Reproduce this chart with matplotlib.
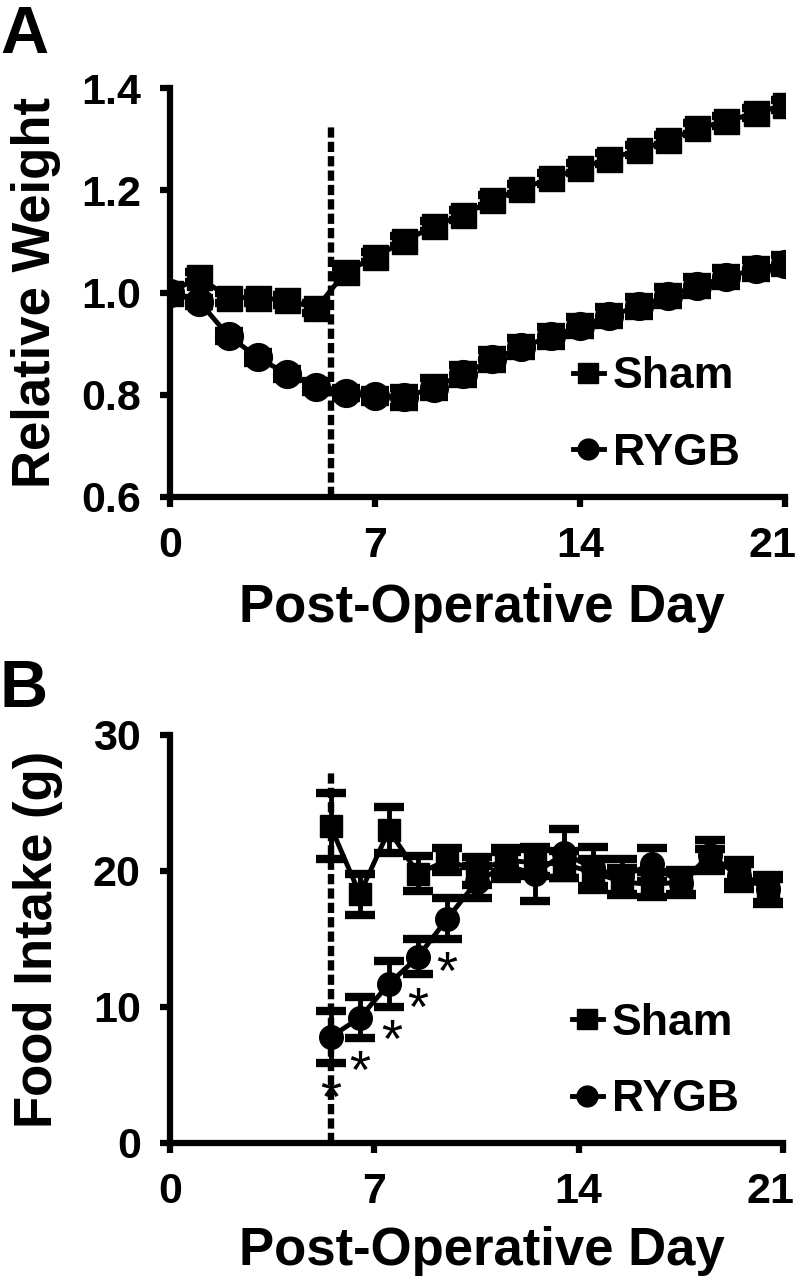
import matplotlib
matplotlib.use("Agg")
import matplotlib.pyplot as plt
import matplotlib.transforms as mtransforms
from matplotlib.lines import Line2D
from matplotlib.path import Path
from matplotlib.textpath import TextPath
from matplotlib.font_manager import FontProperties

plt.rcParams['font.family'] = ['Liberation Sans', 'DejaVu Sans']
plt.rcParams['font.weight'] = 'bold'

# Panel A: relative body weight
days_a = list(range(22))
sham_w = [1.00, 1.03, 0.99, 0.99, 0.985, 0.97, 1.04, 1.07, 1.10, 1.13, 1.152,
          1.18, 1.203, 1.223, 1.243, 1.262, 1.278, 1.298, 1.321, 1.335, 1.351, 1.367]
sham_w_err = [0.01] * 22
rygb_w = [1.00, 0.982, 0.915, 0.873, 0.840, 0.816, 0.804, 0.797, 0.795, 0.814, 0.840,
          0.869, 0.893, 0.914, 0.934, 0.954, 0.973, 0.993, 1.013, 1.030, 1.046, 1.056]
rygb_w_err = [0.005, 0.008, 0.01, 0.01, 0.01, 0.01, 0.01, 0.012, 0.018, 0.018, 0.018,
              0.018, 0.018, 0.018, 0.018, 0.018, 0.018, 0.018, 0.018, 0.018, 0.018, 0.018]

# Panel B: food intake
days_b = [5.5, 6.5, 7.5, 8.5, 9.5, 10.5, 11.5, 12.5, 13.5, 14.5, 15.5, 16.5, 17.5, 18.5, 19.5, 20.5]
sham_f = [23.3, 18.3, 23.0, 19.8, 20.8, 20.0, 20.8, 20.6, 20.5, 19.9, 19.2, 19.0, 19.2, 20.8, 20.0, 18.5]
sham_f_err = [2.4, 1.5, 1.7, 1.3, 0.9, 1.0, 0.9, 1.0, 1.0, 1.0, 1.0, 0.9, 0.9, 0.8, 0.8, 0.9]
rygb_f = [7.8, 9.2, 11.7, 13.7, 16.5, 19.2, 20.4, 19.8, 21.3, 20.2, 19.6, 20.5, 19.1, 21.2, 19.6, 18.7]
rygb_f_err = [1.9, 1.5, 1.7, 1.3, 1.5, 1.2, 1.0, 2.0, 1.8, 1.6, 1.3, 1.2, 0.9, 1.1, 0.9, 1.0]
star_x = [5.5, 6.5, 7.6, 8.5, 9.5]
star_y = [4.1, 6.1, 8.4, 10.7, 13.4]

surgery_day = 5.5
xticks = [0, 7, 14, 21]

fig = plt.figure(figsize=(8.05, 12.76), dpi=100)
ax_a = fig.add_axes([170 / 805, 1 - 497 / 1276, 615 / 805, 409 / 1276])
ax_b = fig.add_axes([170 / 805, 1 - 1143 / 1276, 613 / 805, 408 / 1276])


def style_axes(ax):
    for side in ['top', 'right']:
        ax.spines[side].set_visible(False)
    for side in ['left', 'bottom']:
        ax.spines[side].set_linewidth(4.5)
    ax.tick_params(width=4.5, length=7, labelsize=31, pad=14, direction='out')
    ax.set_xticks(xticks)
    ax.set_xlim(0, 21)
    for lab in ax.get_xticklabels() + ax.get_yticklabels():
        lab.set_fontweight('bold')
    # last x label sits a bit left of its tick, as in the original
    shift = mtransforms.ScaledTranslation(-9 / 72, 0, fig.dpi_scale_trans)
    last = ax.get_xticklabels()[-1]
    last.set_transform(last.get_transform() + shift)


dash = (0, (1.6, 0.65))

# thin regular-weight asterisk, centred, for the significance marks
star_tp = TextPath((0, 0), '*', size=10, prop=FontProperties(family='Liberation Sans', weight='normal'))
verts = star_tp.vertices.copy()
codes = star_tp.codes
start = verts[0]
for i, c in enumerate(codes):
    if c == Path.MOVETO:
        start = verts[i].copy()
    elif c == Path.CLOSEPOLY:
        verts[i] = start
cx = (verts[:, 0].min() + verts[:, 0].max()) / 2
cy = (verts[:, 1].min() + verts[:, 1].max()) / 2
star_path = Path(verts - [cx, cy], codes)

# ---- A ----
ax_a.plot([surgery_day, surgery_day], [0.6, 1.33], color='k', lw=4.6, ls=dash, zorder=1)
ax_a.errorbar(days_a, sham_w, yerr=sham_w_err, fmt='s-', color='k', ms=18, lw=3.5,
              elinewidth=3.5, capsize=10, capthick=6, zorder=3)
ax_a.errorbar(days_a, rygb_w, yerr=rygb_w_err, fmt='o-', color='k', ms=20, lw=3.5,
              elinewidth=3.5, capsize=10, capthick=6, zorder=3)
ax_a.set_ylim(0.6, 1.4)
ax_a.set_yticks([0.6, 0.8, 1.0, 1.2, 1.4])
ax_a.set_yticklabels(['0.6', '0.8', '1.0', '1.2', '1.4'])
style_axes(ax_a)

# ---- B ----
ax_b.plot([surgery_day, surgery_day], [0, 27.3], color='k', lw=4.6, ls=dash, zorder=1)
ax_b.errorbar(days_b, sham_f, yerr=sham_f_err, fmt='s-', color='k', ms=16, lw=3.5,
              elinewidth=3.5, capsize=11, capthick=6, zorder=3)
ax_b.errorbar(days_b, rygb_f, yerr=rygb_f_err, fmt='o-', color='k', ms=17, lw=3.5,
              elinewidth=3.5, capsize=11, capthick=6, zorder=3)
ax_b.plot(star_x, star_y, ls='none', marker=star_path, ms=14, mew=0, color='k', zorder=4)
ax_b.set_ylim(0, 30)
ax_b.set_yticks([0, 10, 20, 30])
style_axes(ax_b)

for ax in (ax_a, ax_b):
    handles = [Line2D([], [], color='k', marker='s', ms=14, lw=3.5),
               Line2D([], [], color='k', marker='o', ms=15, lw=3.5)]
    ax.legend(handles, ['Sham', 'RYGB'], loc='center left', frameon=False,
              bbox_to_anchor=(0.655, 0.20), borderpad=0, borderaxespad=0,
              handlelength=0.7, handletextpad=0.2, labelspacing=0.8,
              prop={'size': 32, 'weight': 'bold'})

# axis labels
fig.text(482 / 805, 1 - 622 / 1276, 'Post-Operative Day', ha='center', va='baseline',
         fontsize=38, fontweight='bold')
fig.text(482 / 805, 1 - 1265 / 1276, 'Post-Operative Day', ha='center', va='baseline',
         fontsize=38, fontweight='bold')
fig.text(36 / 805, 1 - 293 / 1276, 'Relative Weight', rotation=90, ha='center', va='center',
         fontsize=38, fontweight='bold')
fig.text(38 / 805, 1 - 939 / 1276, 'Food Intake (g)', rotation=90, ha='center', va='center',
         fontsize=38, fontweight='bold')

# panel letters
fig.text(0.0, 1 - 53 / 1276, 'A', ha='left', va='baseline', fontsize=48, fontweight='bold')
fig.text(0.0, 1 - 707 / 1276, 'B', ha='left', va='baseline', fontsize=48, fontweight='bold')

fig.savefig('out.png', dpi=100)
